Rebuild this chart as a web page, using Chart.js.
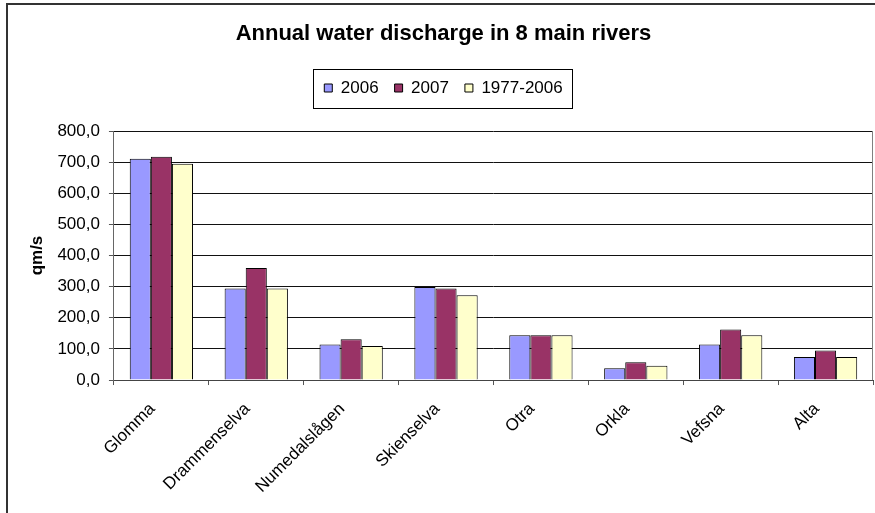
<!DOCTYPE html>
<html><head><meta charset="utf-8">
<script src="https://cdn.jsdelivr.net/npm/chart.js@4"></script>
<style>html,body{margin:0;padding:0;background:#fff;} canvas{display:block;}</style>
</head><body>
<canvas id="c" width="875" height="513"></canvas>
<script>
const categories = ['Glomma','Drammenselva','Numedalslågen','Skienselva','Otra','Orkla','Vefsna','Alta'];
const seriesNames = ['2006','2007','1977-2006'];
const values2006 = [711, 294, 114, 299, 144, 38, 114, 74];
const values2007 = [717, 360, 131, 294, 144, 57, 162, 95];
const values1977_2006 = [695, 294, 109, 272, 144, 46, 144, 74];
const yMin = 0, yMax = 800, yStep = 100;

const FONT = '"Liberation Sans", Arial, sans-serif';
Chart.defaults.font.family = FONT;
Chart.defaults.color = '#000';

const frame = {
  id: 'frame',
  beforeDraw(chart) {
    const ctx = chart.ctx; ctx.save();
    ctx.fillStyle = '#fff'; ctx.fillRect(0, 0, chart.width, chart.height);
    ctx.restore();
  },
  afterDraw(chart) {
    const ctx = chart.ctx; ctx.save();
    ctx.strokeStyle = '#333'; ctx.lineWidth = 2;
    ctx.strokeRect(7, 4, chart.width + 20, chart.height + 20);
    const hb = chart.legend.legendHitBoxes;
    const last = hb[hb.length - 1];
    const l = hb[0].left - 11, r = last.left + last.width + 10;
    const cy = hb[0].top + hb[0].height / 2;
    ctx.strokeStyle = '#000'; ctx.lineWidth = 1;
    ctx.strokeRect(Math.round(l) + 0.5, Math.round(cy - 19.5) + 0.5, Math.round(r - l), 39);
    const a = chart.chartArea;
    ctx.strokeStyle = '#808080';
    ctx.beginPath(); ctx.moveTo(a.right - 0.5, a.top); ctx.lineTo(a.right - 0.5, a.bottom); ctx.stroke();
    ctx.restore();
  }
};

new Chart(document.getElementById('c'), {
  type: 'bar',
  data: {
    labels: categories,
    datasets: [
      { label: seriesNames[0], data: values2006, backgroundColor: '#9999FF' },
      { label: seriesNames[1], data: values2007, backgroundColor: '#993366' },
      { label: seriesNames[2], data: values1977_2006, backgroundColor: '#FFFFCC' }
    ]
  },
  options: {
    responsive: false,
    animation: false,
    devicePixelRatio: 1,
    layout: { padding: { left: 14, right: 2, top: 0, bottom: 2 } },
    datasets: { bar: { categoryPercentage: 0.667, barPercentage: 1, borderWidth: 1, borderColor: '#000' } },
    plugins: {
      tooltip: { enabled: false },
      title: {
        display: true, text: 'Annual water discharge in 8 main rivers',
        font: { size: 22, weight: 'bold' }, color: '#000',
        padding: { top: 21, bottom: 16.1 }
      },
      legend: {
        display: true, position: 'top',
        labels: { font: { size: 17 }, boxWidth: 8, boxHeight: 8, padding: 16, color: '#000' }
      },
      subtitle: {
        display: true, text: '', weight: 500,
        font: { size: 1, lineHeight: 1 }, padding: { top: 23.5, bottom: 0 }
      }
    },
    scales: {
      x: {
        grid: { offset: true, drawOnChartArea: false, drawTicks: true, tickLength: 5, color: '#555' },
        border: { color: '#444', width: 1 },
        ticks: { minRotation: 45, maxRotation: 45, autoSkip: false, font: { size: 17 }, color: '#000', padding: 14, labelOffset: -9 }
      },
      y: {
        min: yMin, max: yMax,
        ticks: { stepSize: yStep, font: { size: 17 }, color: '#000', padding: 9,
          callback: v => v.toFixed(1).replace('.', ',') },
        grid: { color: '#111', tickLength: 5, tickColor: '#555' },
        border: { color: '#666', width: 1 },
        title: { display: true, text: 'qm/s', font: { size: 17, weight: 'bold' }, color: '#000', padding: { top: 13, bottom: 1 } }
      }
    }
  },
  plugins: [frame]
});
</script>
</body></html>
